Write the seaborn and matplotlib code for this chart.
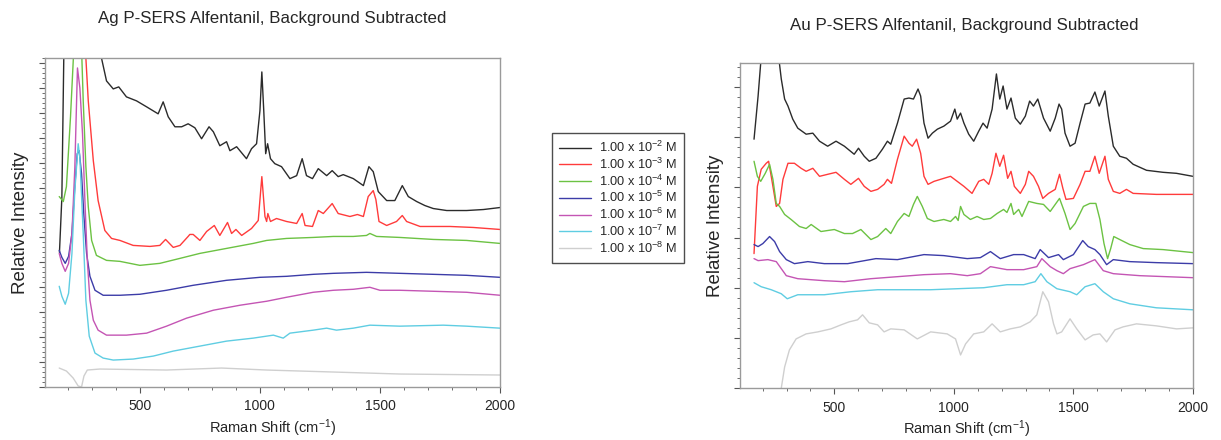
import numpy as np
import pandas as pd
import matplotlib
matplotlib.use("Agg")
import matplotlib.pyplot as plt
from matplotlib.ticker import MultipleLocator, NullFormatter
import seaborn as sns

# ---------------- data (Raman shift in cm^-1, relative intensity in arbitrary units) -------------
labels = ["1.00 x 10$^{-2}$ M", "1.00 x 10$^{-3}$ M", "1.00 x 10$^{-4}$ M", "1.00 x 10$^{-5}$ M",
          "1.00 x 10$^{-6}$ M", "1.00 x 10$^{-7}$ M", "1.00 x 10$^{-8}$ M"]
colors = ["#2b2b2b", "#ff3b3b", "#6cc243", "#3c3ca8", "#c455b4", "#5fcde2", "#cfcfcf"]

# ---- Ag panel ----
ag_x_1 = [165, 175, 183, 190, 250, 300, 340, 361, 389, 412, 444, 486, 528, 576, 597, 618, 646, 674, 701, 715,
          729, 757, 788, 806, 833, 861, 875, 903, 944, 965, 986, 1000, 1008, 1016, 1024, 1032, 1044, 1062, 1090,
          1125, 1153, 1176, 1194, 1219, 1243, 1278, 1301, 1326, 1347, 1389, 1431, 1454, 1472, 1493, 1528, 1562,
          1593, 1618, 1653, 1687, 1722, 1778, 1861, 1931, 2000]
ag_y_1 = [135, 190, 330, 420, 500, 420, 330, 307, 299, 301, 291, 287, 281, 274, 286, 271, 261, 261, 264, 262,
          260, 249, 261, 256, 242, 246, 237, 241, 229, 239, 244, 277, 316, 277, 234, 244, 229, 224, 221,
          209, 212, 229, 212, 209, 219, 212, 217, 211, 213, 209, 202, 221, 216, 196, 187, 187,
          202, 191, 186, 182, 179, 177, 177, 178, 180]

ag_x_2 = [220, 250, 275, 285, 306, 326, 354, 382, 417, 472, 542, 583, 607, 639, 667, 701, 708, 722, 750, 778,
          810, 833, 865, 882, 900, 924, 965, 993, 1008, 1021, 1028, 1033, 1044, 1069, 1111, 1153, 1176, 1188,
          1219, 1243, 1264, 1301, 1326, 1375, 1406, 1431, 1451, 1472, 1483, 1496, 1528, 1569, 1593, 1611, 1667,
          1792, 1889, 2000]
ag_y_2 = [420, 480, 330, 287, 227, 187, 157, 149, 147, 142, 141, 142, 148, 140, 142, 151, 153, 153, 147, 156,
          162, 152, 165, 154, 158, 152, 159, 167, 211, 171, 166, 174, 166, 169, 166, 164, 174, 162,
          161, 177, 174, 184, 174, 171, 173, 171, 191, 197, 188, 166, 162, 166, 172, 166, 161,
          161, 160, 158]

ag_x_3 = [164, 181, 194, 211, 225, 240, 257, 264, 275, 285, 299, 319, 361, 417, 500, 583, 667, 750, 861, 972,
          1028, 1111, 1222, 1306, 1389, 1444, 1458, 1486, 1583, 1722, 1861, 2000]
ag_y_3 = [191, 186, 201, 271, 340, 420, 340, 287, 221, 181, 147, 132, 127, 126, 122, 124, 129, 134, 139, 144,
          147, 149, 150, 151, 151, 152, 154, 151, 150, 148, 147, 144]

ag_x_4 = [164, 175, 189, 203, 217, 229, 239, 247, 257, 267, 278, 292, 313, 347, 417, 500, 611, 722, 861, 1000,
          1111, 1222, 1306, 1444, 1583, 1722, 1861, 2000]
ag_y_4 = [137, 130, 124, 131, 154, 201, 234, 237, 214, 171, 134, 111, 97, 92, 92, 93, 97, 102, 107, 110,
          111, 113, 114, 115, 114, 113, 112, 110]

ag_x_5 = [164, 175, 189, 203, 217, 229, 240, 250, 261, 271, 281, 292, 306, 326, 361, 444, 528, 611, 694, 806,
          917, 1028, 1111, 1222, 1306, 1389, 1458, 1500, 1583, 1722, 1861, 2000]
ag_y_5 = [134, 124, 116, 124, 154, 220, 320, 300, 254, 187, 127, 87, 67, 57, 52, 52, 54, 61, 69, 77,
          82, 86, 90, 95, 97, 98, 100, 97, 97, 96, 95, 92]

ag_x_6 = [164, 175, 189, 203, 217, 229, 243, 250, 264, 275, 289, 313, 347, 389, 472, 556, 639, 750, 861, 972,
          1056, 1097, 1125, 1222, 1278, 1319, 1389, 1458, 1583, 1764, 1861, 2000]
ag_y_6 = [101, 91, 83, 94, 134, 197, 244, 230, 154, 87, 51, 34, 29, 27, 28, 31, 36, 41, 46, 49,
          52, 49, 54, 57, 59, 57, 59, 62, 61, 62, 61, 59]

ag_x_7 = [164, 194, 222, 243, 257, 267, 281, 333, 611, 840, 1028, 1306, 1583, 2000]
ag_y_7 = [19, 16, 9, 1, 0, 11, 17, 18, 17, 19, 17, 15, 13, 12]

# ---- Au panel ----
au_x_1 = [164, 181, 194, 230, 267, 278, 292, 306, 326, 347, 382, 410, 438, 472, 507, 542, 583, 601, 625, 646,
          674, 701, 722, 736, 764, 792, 812, 831, 850, 861, 875, 892, 910, 931, 958, 986, 1004, 1014, 1028, 1042,
          1062, 1083, 1104, 1122, 1139, 1160, 1178, 1192, 1206, 1222, 1239, 1257, 1278, 1299, 1317, 1333, 1351,
          1375, 1403, 1424, 1440, 1451, 1465, 1486, 1507, 1528, 1549, 1569, 1590, 1608, 1632, 1646, 1667, 1694,
          1722, 1750, 1806, 1875, 1931, 2000]
au_y_1 = [248, 291, 330, 420, 330, 308, 288, 281, 268, 259, 253, 254, 246, 241, 246, 241, 233, 239, 231, 226,
          229, 238, 246, 243, 264, 288, 289, 288, 298, 291, 264, 249, 254, 258, 261, 266, 278, 268, 274, 264,
          253, 246, 256, 264, 259, 278, 313, 288, 301, 278, 289, 269, 263, 271, 286, 281, 288,
          269, 256, 269, 283, 278, 254, 241, 244, 264, 283, 284, 295, 281, 296, 271, 241, 231,
          229, 223, 217, 215, 214, 211]

au_x_2 = [164, 178, 194, 215, 225, 236, 257, 271, 285, 306, 333, 361, 382, 410, 438, 472, 507, 542, 569, 601,
          625, 653, 681, 708, 722, 739, 764, 792, 812, 826, 844, 861, 875, 892, 917, 958, 986, 1014, 1042, 1076,
          1104, 1125, 1146, 1160, 1176, 1192, 1208, 1225, 1239, 1253, 1278, 1299, 1313, 1333, 1354, 1372, 1396,
          1424, 1442, 1456, 1469, 1500, 1528, 1549, 1569, 1590, 1608, 1632, 1646, 1667, 1694, 1722, 1750, 1847,
          2000]
au_y_2 = [134, 201, 218, 224, 226, 211, 181, 184, 208, 224, 224, 219, 216, 219, 211, 213, 215, 208, 203, 209,
          201, 196, 198, 203, 208, 204, 228, 251, 244, 241, 248, 234, 211, 203, 206, 209, 211, 206, 201, 194,
          206, 208, 203, 214, 234, 221, 232, 209, 216, 201, 194, 203, 216, 211, 201, 189, 194,
          198, 213, 199, 188, 189, 203, 216, 216, 231, 214, 231, 208, 196, 194, 198, 194, 193,
          193]

au_x_3 = [164, 178, 192, 211, 229, 243, 257, 271, 292, 319, 354, 382, 403, 444, 500, 542, 576, 611, 632, 653,
          681, 715, 736, 764, 792, 812, 831, 847, 868, 889, 917, 958, 986, 1007, 1018, 1028, 1042, 1069, 1097, 1125,
          1153, 1181, 1208, 1222, 1239, 1250, 1271, 1285, 1313, 1347, 1375, 1403, 1424, 1442, 1465, 1486, 1507,
          1542, 1569, 1594, 1611, 1628, 1643, 1656, 1669, 1694, 1736, 1792, 1875, 2000]
au_y_3 = [226, 211, 206, 214, 223, 208, 184, 181, 173, 168, 161, 159, 163, 156, 158, 154, 154, 158, 153, 148,
          151, 159, 154, 166, 174, 171, 183, 191, 181, 169, 166, 168, 166, 171, 167, 181, 173, 168, 171, 168,
          169, 174, 178, 175, 184, 173, 178, 171, 186, 184, 183, 176, 183, 189, 174, 158, 164,
          181, 184, 184, 168, 144, 129, 139, 151, 148, 143, 139, 138, 135]

au_x_4 = [164, 181, 201, 229, 250, 271, 299, 333, 389, 458, 556, 674, 764, 875, 958, 1056, 1111, 1153, 1194, 1250,
          1292, 1340, 1361, 1396, 1438, 1458, 1500, 1539, 1562, 1590, 1611, 1639, 1667, 1736, 1847, 2000]
au_y_4 = [143, 141, 144, 151, 146, 136, 128, 124, 126, 124, 124, 129, 128, 133, 132, 129, 130, 136, 129, 133,
          133, 129, 138, 130, 133, 128, 133, 147, 141, 138, 133, 123, 128, 126, 125, 124]

au_x_5 = [164, 181, 222, 257, 278, 299, 347, 458, 542, 653, 764, 875, 986, 1056, 1111, 1153, 1222, 1292, 1347, 1368,
          1403, 1431, 1458, 1486, 1542, 1590, 1625, 1667, 1778, 2000]
au_y_5 = [129, 127, 128, 126, 119, 112, 109, 107, 106, 109, 111, 113, 114, 112, 114, 121, 118, 118, 121, 129,
          121, 117, 114, 119, 123, 128, 117, 114, 112, 110]

au_x_6 = [164, 194, 236, 278, 303, 347, 458, 569, 681, 792, 903, 1014, 1125, 1222, 1292, 1340, 1364, 1389, 1431,
          1486, 1514, 1549, 1590, 1625, 1667, 1736, 1847, 2000]
au_y_6 = [105, 101, 98, 94, 89, 93, 93, 96, 98, 98, 98, 99, 100, 103, 103, 106, 114, 106, 99,
          96, 93, 101, 104, 96, 89, 84, 80, 78]

au_x_7 = [278, 292, 312, 340, 382, 431, 486, 528, 562, 597, 618, 646, 681, 708, 736, 792, 847, 903, 972, 1007,
          1028, 1049, 1083, 1125, 1160, 1194, 1236, 1278, 1319, 1347, 1372, 1396, 1417, 1431, 1451, 1486, 1514,
          1549, 1583, 1611, 1639, 1674, 1708, 1764, 1847, 1931, 2000]
au_y_7 = [0, 21, 38, 49, 54, 56, 59, 63, 66, 68, 73, 65, 63, 56, 59, 58, 49, 56, 54, 49,
          33, 44, 54, 56, 64, 56, 59, 61, 66, 73, 96, 86, 64, 54, 56, 69, 59,
          48, 53, 54, 46, 58, 61, 64, 62, 59, 60]

ag_series = [(ag_x_1, ag_y_1), (ag_x_2, ag_y_2), (ag_x_3, ag_y_3), (ag_x_4, ag_y_4),
             (ag_x_5, ag_y_5), (ag_x_6, ag_y_6), (ag_x_7, ag_y_7)]
au_series = [(au_x_1, au_y_1), (au_x_2, au_y_2), (au_x_3, au_y_3), (au_x_4, au_y_4),
             (au_x_5, au_y_5), (au_x_6, au_y_6), (au_x_7, au_y_7)]


def to_frame(series):
    rows = []
    for lab, (xs, ys) in zip(labels, series):
        for i, (x, y) in enumerate(zip(xs, ys)):
            rows.append({"shift": x, "intensity": y, "conc": lab, "order": i})
    return pd.DataFrame(rows)


sns.set_theme(style="white")
plt.rcParams["font.family"] = ["Liberation Sans", "DejaVu Sans"]
plt.rcParams["mathtext.default"] = "regular"

fig = plt.figure(figsize=(12.21, 4.40), dpi=100)
ax1 = fig.add_axes([0.0369, 0.1205, 0.3726, 0.7477])
ax2 = fig.add_axes([0.606, 0.118, 0.371, 0.739])
palette = dict(zip(labels, colors))

panels = [(ax1, ag_series, (0, 330), 25, 5), (ax2, au_series, (0, 324), 50, 10)]
for ax, series, ylim, ymaj, ymin in panels:
    df = to_frame(series)
    sns.lineplot(data=df, x="shift", y="intensity", hue="conc", palette=palette, hue_order=labels,
                 sort=False, estimator=None, units="conc", lw=1.0, ax=ax, legend=False)
    ax.set_xlim(105, 2000)
    ax.set_ylim(*ylim)
    ax.xaxis.set_major_locator(MultipleLocator(500))
    ax.xaxis.set_minor_locator(MultipleLocator(100))
    ax.yaxis.set_major_locator(MultipleLocator(ymaj))
    ax.yaxis.set_minor_locator(MultipleLocator(ymin))
    ax.yaxis.set_major_formatter(NullFormatter())
    ax.tick_params(axis="both", which="both", direction="out", color="#555555", left=True, bottom=True)
    ax.tick_params(axis="both", which="major", length=4, width=0.8)
    ax.tick_params(axis="both", which="minor", length=2, width=0.6)
    ax.tick_params(axis="x", labelsize=10, pad=5)
    for sp in ax.spines.values():
        sp.set_color("#9a9a9a")
        sp.set_linewidth(1.0)
    ax.set_xlabel("Raman Shift (cm$^{-1}$)", fontsize=10.5, labelpad=3)
    ax.set_ylabel("Relative Intensity", fontsize=13.5, labelpad=4)

fig.text(0.223, 0.958, "Ag P-SERS Alfentanil, Background Subtracted", ha="center", va="center", fontsize=12.2)
fig.text(0.790, 0.943, "Au P-SERS Alfentanil, Background Subtracted", ha="center", va="center", fontsize=12.2)

handles = [plt.Line2D([0], [0], color=c, lw=1.0) for c in colors]
leg = fig.legend(handles, labels, loc="upper left", bbox_to_anchor=(0.452, 0.698), fontsize=9.2,
                 frameon=True, fancybox=False, edgecolor="#222222", handlelength=2.5, handletextpad=0.6,
                 labelspacing=0.12, borderpad=0.55, borderaxespad=0)
leg.get_frame().set_linewidth(1.0)

fig.savefig("out.png", dpi=100)
